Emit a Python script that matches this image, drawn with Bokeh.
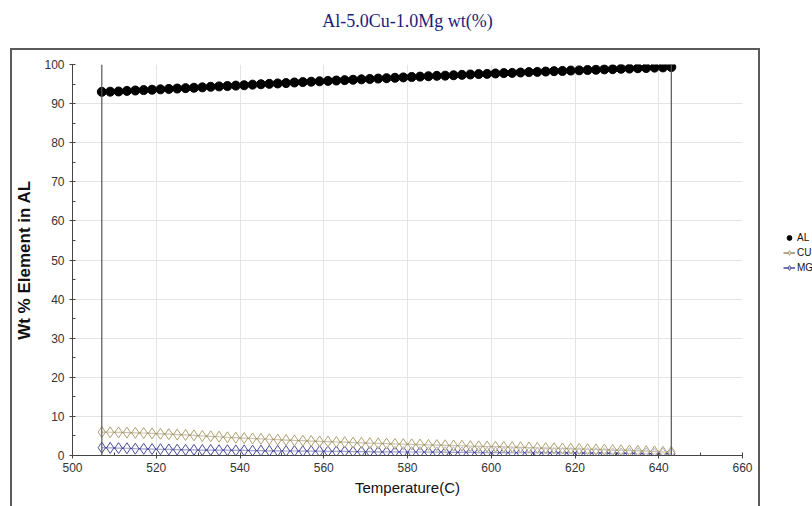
from bokeh.plotting import figure
from bokeh.models import (Range1d, ColumnDataSource, Span, Legend, LegendItem, Title,
                          FixedTicker, InlineStyleSheet)
from bokeh.embed import file_html
from bokeh.resources import INLINE

title_text = "Al-5.0Cu-1.0Mg wt(%)"
x_label = "Temperature(C)"
y_label = "Wt % Element in AL"
series_names = ["AL", "CU", "MG"]

temperature = [507, 509, 511, 513, 515, 517, 519, 521, 523, 525, 527, 529, 531, 533, 535, 537,
               539, 541, 543, 545, 547, 549, 551, 553, 555, 557, 559, 561, 563, 565, 567, 569,
               571, 573, 575, 577, 579, 581, 583, 585, 587, 589, 591, 593, 595, 597, 599, 601,
               603, 605, 607, 609, 611, 613, 615, 617, 619, 621, 623, 625, 627, 629, 631, 633,
               635, 637, 639, 641, 643]

al = [93.00, 93.05, 93.10, 93.25, 93.35, 93.45, 93.55, 93.65, 93.75, 93.85, 93.95, 94.05,
      94.15, 94.30, 94.40, 94.50, 94.60, 94.70, 94.85, 94.95, 95.05, 95.15, 95.25, 95.40,
      95.50, 95.60, 95.70, 95.80, 95.90, 96.00, 96.10, 96.20, 96.30, 96.40, 96.50, 96.60,
      96.70, 96.80, 96.90, 97.00, 97.10, 97.15, 97.25, 97.35, 97.45, 97.55, 97.60, 97.70,
      97.80, 97.85, 97.95, 98.05, 98.10, 98.20, 98.30, 98.35, 98.45, 98.50, 98.60, 98.65,
      98.75, 98.80, 98.90, 98.95, 99.05, 99.10, 99.20, 99.25, 99.35]

cu = [6.00, 5.95, 5.90, 5.85, 5.80, 5.75, 5.65, 5.55, 5.45, 5.35, 5.25, 5.15, 5.00, 4.90,
      4.80, 4.65, 4.55, 4.45, 4.35, 4.25, 4.15, 4.05, 3.95, 3.85, 3.80, 3.70, 3.60, 3.55,
      3.45, 3.40, 3.30, 3.25, 3.15, 3.10, 3.05, 2.95, 2.90, 2.85, 2.80, 2.70, 2.65, 2.60,
      2.55, 2.50, 2.40, 2.35, 2.30, 2.25, 2.20, 2.15, 2.10, 2.05, 1.95, 1.90, 1.85, 1.80,
      1.75, 1.70, 1.60, 1.55, 1.50, 1.40, 1.35, 1.30, 1.20, 1.10, 1.05, 0.95, 0.90]

mg = [2.00, 1.95, 1.90, 1.85, 1.75, 1.70, 1.65, 1.60, 1.55, 1.50, 1.45, 1.45, 1.40, 1.40,
      1.35, 1.35, 1.30, 1.30, 1.25, 1.25, 1.20, 1.20, 1.15, 1.15, 1.10, 1.10, 1.10, 1.05,
      1.05, 1.05, 1.00, 1.00, 1.00, 0.95, 0.95, 0.95, 0.90, 0.90, 0.90, 0.85, 0.85, 0.85,
      0.80, 0.80, 0.80, 0.75, 0.75, 0.75, 0.75, 0.70, 0.70, 0.70, 0.70, 0.65, 0.65, 0.65,
      0.65, 0.60, 0.60, 0.60, 0.60, 0.55, 0.55, 0.55, 0.55, 0.50, 0.50, 0.50, 0.50]

x_ticks = [500, 520, 540, 560, 580, 600, 620, 640, 660]
x_minor = [510, 530, 550, 570, 590, 610, 630, 650]
y_ticks = [0, 10, 20, 30, 40, 50, 60, 70, 80, 90, 100]
y_minor = [5, 15, 25, 35, 45, 55, 65, 75, 85, 95]

n = min(len(temperature), len(al), len(cu), len(mg))
src = ColumnDataSource(dict(t=temperature[:n], al=al[:n], cu=cu[:n], mg=mg[:n]))

box_css = InlineStyleSheet(css="""
:host::after {
  content: "";
  position: absolute;
  left: 10px; top: 48px; width: 750px; height: 470px;
  border: 2px solid #5a5a5a;
  box-sizing: border-box;
  pointer-events: none;
}
""")

p = figure(width=810, height=504, output_backend="svg", toolbar_location=None,
           x_range=Range1d(500, 660), y_range=Range1d(0, 100),
           min_border_left=72, min_border_right=68, min_border_top=64, min_border_bottom=49,
           frame_width=670, frame_height=391, stylesheets=[box_css])
p.background_fill_color = "white"
p.border_fill_color = "white"
p.outline_line_color = None

p.title.text = title_text
p.title.text_font = "Liberation Serif"
p.title.text_font_size = "18px"
p.title.text_font_style = "normal"
p.title.text_color = "#1c1c7a"
p.title.align = "center"
p.title.offset = 6
p.add_layout(Title(text=" ", text_font_size="15px"), "above")

font = "'Liberation Sans Narrow', 'Liberation Sans', Arial"
for ax in (p.xaxis[0], p.yaxis[0]):
    ax.axis_line_color = "#444444"
    ax.major_tick_line_color = "#444444"
    ax.minor_tick_line_color = "#444444"
    ax.major_tick_in = 3
    ax.major_tick_out = 3
    ax.minor_tick_in = 3
    ax.minor_tick_out = 0
    ax.major_label_text_font = font
    ax.major_label_text_font_size = "12px"
    ax.major_label_text_color = "#333333"
    ax.axis_label_text_font = "'Liberation Sans', Arial"
    ax.axis_label_text_color = "#111111"

p.xaxis[0].ticker = FixedTicker(ticks=x_ticks, minor_ticks=x_minor)
p.yaxis[0].ticker = FixedTicker(ticks=y_ticks, minor_ticks=y_minor)
p.xaxis[0].axis_label = x_label
p.yaxis[0].axis_label = y_label
p.xaxis[0].axis_label_text_font_size = "15px"
p.xaxis[0].axis_label_text_font_style = "normal"
p.yaxis[0].axis_label_text_font_size = "17px"
p.yaxis[0].axis_label_text_font_style = "bold"
p.xaxis[0].axis_label_standoff = 4
p.yaxis[0].axis_label_standoff = 7
p.xaxis[0].major_label_standoff = 4

p.xgrid.grid_line_color = "#e4e4e4"
p.ygrid.grid_line_color = "#e4e4e4"

# boundary lines at the first and last temperatures
for loc in (temperature[0], temperature[n - 1]):
    p.add_layout(Span(location=loc, dimension="height", line_color="#555555", line_width=1.2))

mg_line = p.line("t", "mg", source=src, line_color="#1c1c80", line_width=1.2)
mg_pts = p.scatter("t", "mg", source=src, marker="diamond", size=11, line_color="#4a4a9c",
                   fill_color="white", fill_alpha=0.6, line_width=1)
cu_line = p.line("t", "cu", source=src, line_color="#7d6a40", line_width=1.2)
cu_pts = p.scatter("t", "cu", source=src, marker="diamond", size=11, line_color="#b0a070",
                   fill_color="white", fill_alpha=0.6, line_width=1)
al_line = p.line("t", "al", source=src, line_color="black", line_width=1.2)
al_pts = p.scatter("t", "al", source=src, marker="circle", size=9, line_color="black",
                   fill_color="black")

legend = Legend(items=[LegendItem(label=series_names[0], renderers=[al_pts]),
                       LegendItem(label=series_names[1], renderers=[cu_line, cu_pts]),
                       LegendItem(label=series_names[2], renderers=[mg_line, mg_pts])],
                location=(41, 180), orientation="vertical",
                border_line_color=None, background_fill_alpha=0,
                padding=0, spacing=0, margin=0,
                glyph_width=12, glyph_height=15, label_height=15,
                label_standoff=2, label_text_font_size="10px",
                label_text_color="#111111",
                label_text_font="'Liberation Sans', Arial")
p.add_layout(legend, "right")

open("out.html", "w").write(file_html(p, INLINE))
